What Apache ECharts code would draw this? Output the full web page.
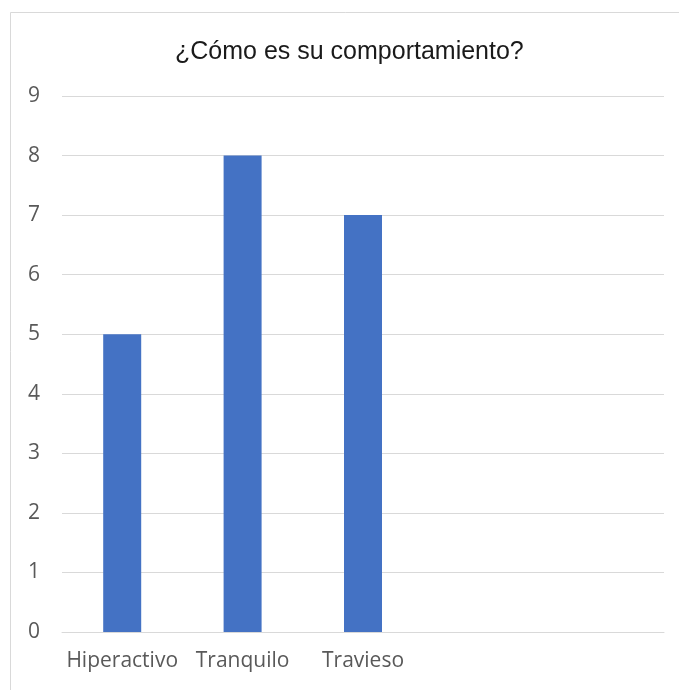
<!DOCTYPE html>
<html><head><meta charset="utf-8">
<script src="https://cdn.jsdelivr.net/npm/echarts@6/dist/echarts.min.js"></script>
<style>html,body{margin:0;padding:0;background:#fff}#c{width:679px;height:690px}</style>
</head><body><div id="c"></div>
<script>
const title = '¿Cómo es su comportamiento?';
const categories = ['Hiperactivo', 'Tranquilo', 'Travieso', '', ''];
const values = [5, 8, 7, null, null];
const yMin = 0, yMax = 9, yStep = 1;

const chart = echarts.init(document.getElementById('c'));
chart.setOption({
  animation: false,
  backgroundColor: '#fff',
  graphic: [{
    type: 'rect', shape: {x: 10.5, y: 12.5, width: 700, height: 700},
    style: {fill: 'none', stroke: '#d9d9d9', lineWidth: 1}, silent: true, z: -1
  }],
  title: {
    text: title, left: 170, top: 35,
    textStyle: {fontFamily: 'Liberation Sans', fontSize: 25, fontWeight: 'normal', color: '#1a1a1a'}
  },
  grid: {left: 62, right: 15, top: 96, bottom: 58},
  xAxis: {
    type: 'category', data: categories,
    axisLine: {lineStyle: {color: '#d9d9d9', width: 1}},
    axisTick: {show: false},
    axisLabel: {color: '#595959', fontFamily: 'Open Sans', fontSize: 21, margin: 19, interval: 0}
  },
  yAxis: {
    type: 'value', min: yMin, max: yMax, interval: yStep,
    axisLine: {show: false}, axisTick: {show: false},
    splitLine: {lineStyle: {color: '#d9d9d9', width: 1}},
    axisLabel: {color: '#595959', fontFamily: 'Open Sans', fontSize: 21, margin: 22}
  },
  series: [{
    type: 'bar', data: values, barWidth: 38,
    itemStyle: {color: '#4472c4'}
  }]
});
</script></body></html>
